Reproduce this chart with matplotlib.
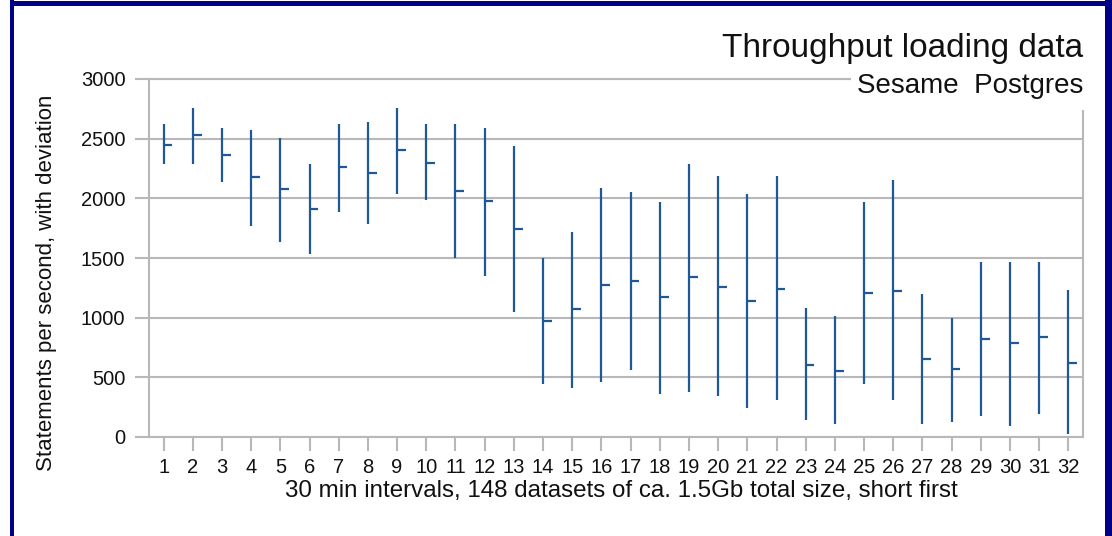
import matplotlib
matplotlib.use('Agg')
import matplotlib.pyplot as plt
from matplotlib.patches import Rectangle

# values
intervals = list(range(1, 33))
high = [2623, 2754, 2586, 2570, 2503, 2285, 2623, 2639, 2754, 2623,
        2623, 2586, 2436, 1497, 1715, 2086, 2050, 1966, 2285, 2184,
        2033, 2184, 1078, 1011, 1966, 2151, 1195, 994, 1464, 1464,
        1464, 1229]
low = [2290, 2290, 2139, 1771, 1637, 1536, 1888, 1788, 2039, 1989,
       1497, 1352, 1050, 447, 411, 461, 561, 363, 377, 344,
       243, 310, 142, 109, 444, 310, 109, 126, 176, 92,
       193, 25]
mean = [2449, 2533, 2366, 2181, 2081, 1910, 2265, 2215, 2402, 2296,
        2064, 1980, 1743, 972, 1073, 1274, 1307, 1173, 1341, 1257,
        1142, 1240, 603, 553, 1207, 1226, 654, 570, 821, 788,
        838, 620]
yticks = [0, 500, 1000, 1500, 2000, 2500, 3000]

title = 'Throughput loading data'
legend_label = 'Sesame  Postgres'
xlabel = '30 min intervals, 148 datasets of ca. 1.5Gb total size, short first'
ylabel = 'Statements per second, with deviation'

bar_color = '#1f5896'
grid_color = '#b8b8b8'
frame_color = '#000088'

plt.rcParams['font.family'] = ['Liberation Sans', 'DejaVu Sans']

W, H = 1112, 536
fig = plt.figure(figsize=(W / 100, H / 100), dpi=100)
fig.patch.set_facecolor('white')

ax = fig.add_axes([149 / W, 1 - 437 / H, (1083 - 149) / W, (437 - 79) / H])

# range bar + mean tick to the right
ax.vlines(intervals, low, high, color=bar_color, lw=1.6)
ax.hlines(mean, intervals, [x + 0.3 for x in intervals], color=bar_color, lw=1.6)

ax.set_xlim(0.5, 32.5)
ax.set_ylim(0, 3000)
ax.set_xticks(intervals)
ax.set_yticks(yticks)
ax.yaxis.grid(True, color=grid_color, lw=1.5)
ax.set_axisbelow(True)

for side in ['left', 'right', 'bottom', 'top']:
    ax.spines[side].set_color(grid_color)
    ax.spines[side].set_linewidth(1.5)

ax.tick_params(axis='both', length=10, width=1.5, color=grid_color,
               labelsize=14.5, labelcolor='#111111', pad=7)
ax.tick_params(axis='x', pad=5)

fig.text(621 / W, 1 - 497 / H, xlabel, ha='center', va='baseline',
         fontsize=17.4, color='#111111')
fig.text(47 / W, 1 - 283 / H, ylabel, ha='center', va='center',
         rotation=90, fontsize=16, color='#111111')

# white box behind the legend text hides the top-right corner of the frame
fig.add_artist(Rectangle((851 / W, 1 - 110 / H), (1100 - 851) / W, 42 / H,
                         transform=fig.transFigure, facecolor='white',
                         edgecolor='none', zorder=3))
fig.text(1083 / W, 1 - 57 / H, title, ha='right', va='baseline',
         fontsize=24, color='#111111', zorder=4)
fig.text(1083 / W, 1 - 93 / H, legend_label, ha='right', va='baseline',
         fontsize=20, color='#111111', zorder=4)

# navy page frame
fig.add_artist(Rectangle((10 / W, 0), 3.5 / W, 1, transform=fig.transFigure,
                         facecolor=frame_color, edgecolor='none', zorder=5))
fig.add_artist(Rectangle((10 / W, 1 - 6 / H), (W - 10) / W, 5 / H,
                         transform=fig.transFigure, facecolor=frame_color,
                         edgecolor='none', zorder=5))
fig.add_artist(Rectangle((1105 / W, 0), 7 / W, 1, transform=fig.transFigure,
                         facecolor=frame_color, edgecolor='none', zorder=5))

fig.savefig('out.png', dpi=100)
